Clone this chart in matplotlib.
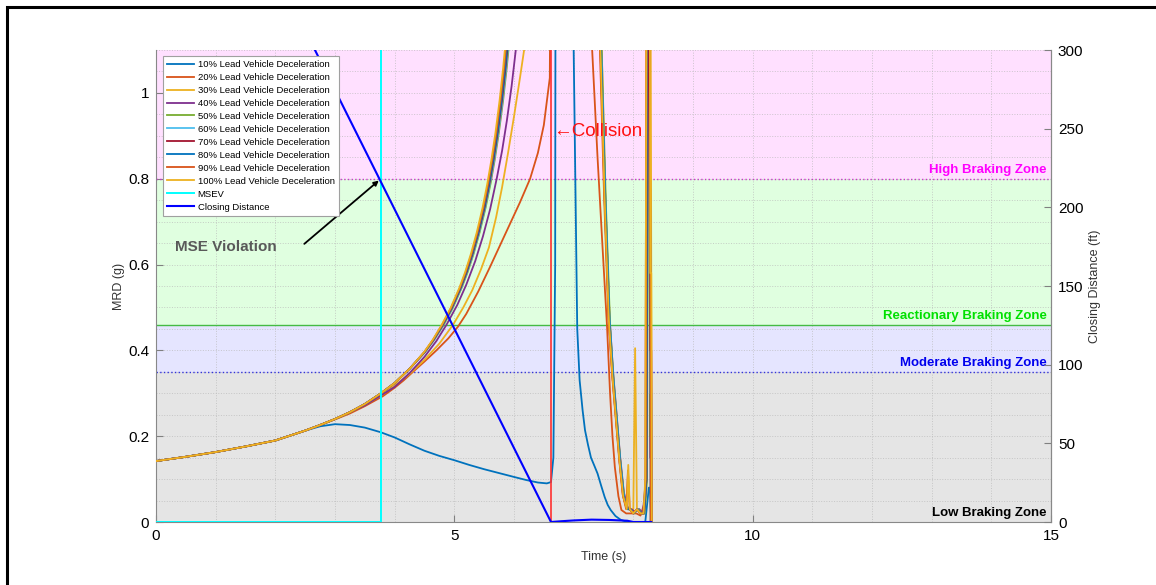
import numpy as np
import matplotlib
matplotlib.use("Agg")
import matplotlib.pyplot as plt
from matplotlib.patches import Rectangle
from matplotlib.ticker import MultipleLocator

plt.rcParams['font.family'] = ['Liberation Sans', 'DejaVu Sans']

# ---------------- data ----------------
# shared start of every MRD curve (g)
EARLY_T = [0.0, 0.5, 1.0, 1.5, 2.0, 2.5]
EARLY_G = [0.142, 0.152, 0.163, 0.176, 0.190, 0.213]

# 10 %
T10 = [2.75, 3.0, 3.25, 3.5, 3.77, 4.0, 4.25, 4.5, 4.75, 5.0, 5.25, 5.5, 5.75, 6.0, 6.2, 6.4, 6.55, 6.62,
       6.66, 6.69, 6.70, 6.98, 7.0, 7.06, 7.1, 7.15, 7.19, 7.24, 7.29, 7.35, 7.4, 7.46, 7.52, 7.57, 7.62, 7.7,
       7.79, 7.9, 8.2, 8.26, 8.28, 8.3]
G10 = [0.223, 0.228, 0.226, 0.220, 0.209, 0.197, 0.181, 0.166, 0.154, 0.144, 0.133, 0.123, 0.114, 0.105, 0.098,
       0.092, 0.090, 0.093, 0.15, 0.6, 1.8, 1.8, 1.1, 0.45, 0.33, 0.26, 0.214, 0.18, 0.15, 0.13, 0.113, 0.085,
       0.058, 0.04, 0.028, 0.014, 0.005, 0.0, 0.0, 0.08, 0.08, 0.0]

# 20 %
T20 = [2.75, 3.0, 3.25, 3.5, 3.8, 4.0, 4.15, 4.3, 4.5, 4.7, 4.9, 5.06, 5.2, 5.4, 5.6, 5.88, 6.1, 6.27, 6.4,
       6.5, 6.6, 6.63, 7.25, 7.31, 7.4, 7.48, 7.56, 7.61, 7.65, 7.69, 7.75, 7.8, 7.88, 7.95, 8.05, 8.12, 8.2,
       8.23, 8.26, 8.29, 8.31]
G20 = [0.226, 0.239, 0.253, 0.270, 0.293, 0.313, 0.330, 0.349, 0.374, 0.400, 0.428, 0.455, 0.485, 0.537,
       0.595, 0.679, 0.745, 0.800, 0.860, 0.925, 1.035, 1.8, 1.8, 1.1, 0.85, 0.65, 0.453, 0.3, 0.2, 0.128,
       0.06, 0.028, 0.02, 0.02, 0.02, 0.015, 0.05, 1.8, 1.8, 0.2, 0.0]

# 30 %
T30 = [2.75, 3.0, 3.25, 3.5, 3.8, 4.0, 4.25, 4.5, 4.75, 4.98, 5.15, 5.3, 5.45, 5.58, 5.7, 5.8, 5.9, 6.0,
       6.1, 6.18, 6.25, 7.4, 7.47, 7.54, 7.61, 7.67, 7.73, 7.79, 7.85, 7.9, 7.96, 8.0, 8.03, 8.06, 8.12,
       8.18, 8.22, 8.25, 8.28, 8.31]
G30 = [0.226, 0.240, 0.256, 0.273, 0.297, 0.318, 0.345, 0.378, 0.416, 0.460, 0.500, 0.540, 0.590, 0.640,
       0.710, 0.780, 0.860, 0.945, 1.035, 1.110, 1.8, 1.8, 1.1, 0.7, 0.45, 0.32, 0.22, 0.13, 0.05, 0.03,
       0.03, 0.03, 0.405, 0.03, 0.02, 0.02, 0.1, 1.8, 1.8, 0.0]

# 40 %
T40 = [2.75, 3.0, 3.25, 3.5, 3.77, 4.0, 4.25, 4.5, 4.7, 4.87, 5.05, 5.2, 5.35, 5.48, 5.6, 5.71, 5.8, 5.88,
       5.96, 6.03, 6.1, 7.4, 7.46, 7.53, 7.6, 7.66, 7.72, 7.78, 7.84, 7.9, 7.96, 8.02, 8.1, 8.16, 8.21,
       8.24, 8.27, 8.285, 8.3, 8.31]
G40 = [0.226, 0.240, 0.256, 0.272, 0.295, 0.315, 0.347, 0.385, 0.422, 0.460, 0.506, 0.553, 0.608, 0.666,
       0.729, 0.800, 0.865, 0.935, 1.016, 1.100, 1.198, 1.8, 1.1, 0.76, 0.48, 0.35, 0.25, 0.15, 0.07,
       0.035, 0.03, 0.025, 0.03, 0.02, 0.1, 1.8, 1.8, 0.15, 0.15, 0.0]

# 50 % .. 100 % share one rising shape, each slightly shifted in time
MAIN_G = [0.226, 0.240, 0.256, 0.275, 0.300, 0.324, 0.357, 0.396, 0.425, 0.459, 0.498, 0.545, 0.582,
          0.625, 0.675, 0.733, 0.788, 0.844, 0.908, 0.983, 1.058, 1.130, 1.213]
RISE_T50 = [2.75, 3.0, 3.25, 3.5, 3.77, 4.0, 4.25, 4.51, 4.665, 4.82, 4.97, 5.12, 5.222, 5.323, 5.424,
            5.525, 5.606, 5.677, 5.747, 5.818, 5.878, 5.928, 5.979]
RISE_T60 = [2.75, 3.0, 3.25, 3.5, 3.77, 4.0, 4.25, 4.505, 4.66, 4.813, 4.963, 5.113, 5.214, 5.315,
            5.416, 5.516, 5.596, 5.667, 5.737, 5.808, 5.868, 5.918, 5.968]
RISE_T70 = [2.75, 3.0, 3.25, 3.5, 3.77, 4.0, 4.25, 4.502, 4.655, 4.806, 4.956, 5.106, 5.207, 5.307,
            5.408, 5.508, 5.588, 5.658, 5.728, 5.799, 5.859, 5.909, 5.959]
RISE_T80 = [2.75, 3.0, 3.25, 3.5, 3.77, 4.0, 4.25, 4.5, 4.65, 4.8, 4.95, 5.1, 5.2, 5.3, 5.4, 5.5, 5.58,
            5.65, 5.72, 5.79, 5.85, 5.9, 5.95]
RISE_T90 = [2.75, 3.0, 3.25, 3.5, 3.77, 4.0, 4.25, 4.497, 4.645, 4.793, 4.942, 5.091, 5.19, 5.289, 5.388,
            5.487, 5.566, 5.635, 5.705, 5.774, 5.833, 5.882, 5.932]
RISE_T100 = [2.75, 3.0, 3.25, 3.5, 3.77, 4.0, 4.25, 4.493, 4.64, 4.787, 4.935, 5.082, 5.18, 5.278, 5.376,
             5.474, 5.552, 5.621, 5.69, 5.759, 5.818, 5.866, 5.915]

TAIL_T50 = [6.05, 7.3, 7.47, 7.54, 7.61, 7.67, 7.73, 7.79, 7.85, 7.91, 7.96, 8.01, 8.08, 8.14, 8.19, 8.23,
            8.26, 8.28, 8.3, 8.31]
TAIL_G50 = [1.8, 1.8, 1.1, 0.74, 0.46, 0.33, 0.23, 0.13, 0.055, 0.03, 0.028, 0.02, 0.03, 0.02, 0.02, 0.1,
            1.8, 0.2, 0.2, 0.0]
TAIL_T60 = [6.04, 7.3, 7.46, 7.53, 7.6, 7.66, 7.72, 7.78, 7.84, 7.9, 7.95, 8.0, 8.07, 8.13, 8.18, 8.22,
            8.25, 8.28, 8.3, 8.31]
TAIL_G60 = [1.8, 1.8, 1.1, 0.75, 0.47, 0.34, 0.24, 0.14, 0.06, 0.03, 0.03, 0.02, 0.03, 0.02, 0.02, 0.1,
            1.8, 0.3, 0.3, 0.0]
TAIL_T70 = [6.03, 7.3, 7.45, 7.52, 7.59, 7.65, 7.71, 7.77, 7.83, 7.89, 7.94, 8.0, 8.06, 8.12, 8.18, 8.22,
            8.25, 8.28, 8.3, 8.31]
TAIL_G70 = [1.8, 1.8, 1.1, 0.75, 0.47, 0.34, 0.24, 0.14, 0.06, 0.03, 0.03, 0.02, 0.03, 0.02, 0.02, 0.1,
            1.8, 0.4, 0.4, 0.0]
TAIL_T80 = [6.02, 7.3, 7.46, 7.53, 7.6, 7.66, 7.72, 7.78, 7.84, 7.9, 7.95, 8.0, 8.07, 8.13, 8.18, 8.22,
            8.24, 8.27, 8.29]
TAIL_G80 = [1.8, 1.8, 1.1, 0.75, 0.47, 0.34, 0.24, 0.14, 0.06, 0.03, 0.03, 0.02, 0.03, 0.02, 0.02, 0.1,
            1.8, 1.8, 0.0]
TAIL_T90 = [6.0, 7.3, 7.44, 7.51, 7.58, 7.64, 7.7, 7.76, 7.82, 7.88, 7.91, 7.94, 7.99, 8.06, 8.12, 8.17,
            8.21, 8.23, 8.27, 8.29]
TAIL_G90 = [1.8, 1.8, 1.1, 0.76, 0.48, 0.35, 0.25, 0.15, 0.065, 0.03, 0.12, 0.03, 0.02, 0.03, 0.02, 0.02,
            0.1, 1.8, 1.8, 0.0]
TAIL_T100 = [5.99, 7.3, 7.45, 7.52, 7.59, 7.65, 7.71, 7.77, 7.83, 7.89, 7.915, 7.94, 8.0, 8.06, 8.12, 8.17,
             8.2, 8.23, 8.27, 8.285, 8.30, 8.31]
TAIL_G100 = [1.8, 1.8, 1.1, 0.75, 0.47, 0.34, 0.24, 0.14, 0.06, 0.03, 0.133, 0.03, 0.02, 0.03, 0.02, 0.02,
             0.1, 1.8, 1.8, 0.58, 0.58, 0.0]

LABELS = ['10% Lead Vehicle Deceleration', '20% Lead Vehicle Deceleration',
          '30% Lead Vehicle Deceleration', '40% Lead Vehicle Deceleration',
          '50% Lead Vehicle Deceleration', '60% Lead Vehicle Deceleration',
          '70% Lead Vehicle Deceleration', '80% Lead Vehicle Deceleration',
          '90% Lead Vehicle Deceleration', '100% Lead Vehicle Deceleration']
COLORS = ['#0072BD', '#D95319', '#EDB120', '#7E2F8E', '#77AC30',
          '#4DBEEE', '#A2142F', '#0072BD', '#D95319', '#EDB120']

# MSEV time (s) and collision time (s)
MSEV_T = [0.0, 3.77, 3.77]
MSEV_G = [0.0, 0.0, 2.0]
COLLISION_T = 6.62

# closing distance (ft)
CD_T = [0.0, 6.62, 6.8, 7.0, 7.3, 7.6, 7.9, 8.0, 8.3]
CD_FT = [502.0, 0.0, 0.5, 1.0, 1.5, 1.3, 0.8, 0.0, 0.0]

# braking zones (g)
ZONE_EDGES = [0.0, 0.35, 0.46, 0.8, 1.1]
ZONE_FILL = ['#E5E5E5', '#E5E5FF', '#E0FFE0', '#FFE0FF']
ZONE_NAMES = ['Low Braking Zone', 'Moderate Braking Zone', 'Reactionary Braking Zone', 'High Braking Zone']
ZONE_TXT = ['black', '#0000EE', '#00E000', '#FF00FF']

# ---------------- plot ----------------
fig = plt.figure(figsize=(11.56, 5.85), dpi=100)
ax = fig.add_axes([156 / 1156, 1 - 522 / 585, 895 / 1156, 472 / 585])

for lo, hi, c in zip(ZONE_EDGES[:-1], ZONE_EDGES[1:], ZONE_FILL):
    ax.axhspan(lo, hi, color=c, zorder=0, lw=0)
ax.axhline(0.8, color='#CC33CC', lw=1.0, ls=':', zorder=2)
ax.axhline(0.46, color='#44BB44', lw=1.0, zorder=2)
ax.axhline(0.35, color='#3333DD', lw=1.0, ls=':', zorder=2)

series = [(T10, G10), (T20, G20), (T30, G30), (T40, G40),
          (RISE_T50 + TAIL_T50, MAIN_G + TAIL_G50),
          (RISE_T60 + TAIL_T60, MAIN_G + TAIL_G60),
          (RISE_T70 + TAIL_T70, MAIN_G + TAIL_G70),
          (RISE_T80 + TAIL_T80, MAIN_G + TAIL_G80),
          (RISE_T90 + TAIL_T90, MAIN_G + TAIL_G90),
          (RISE_T100 + TAIL_T100, MAIN_G + TAIL_G100)]
handles = []
for (t, g), lab, col in zip(series, LABELS, COLORS):
    h, = ax.plot(EARLY_T + t, EARLY_G + g, color=col, lw=1.3, label=lab, zorder=3)
    handles.append(h)

h, = ax.plot(MSEV_T, MSEV_G, color='cyan', lw=1.4, label='MSEV', zorder=4)
handles.append(h)
ax.axvline(COLLISION_T, color='#FF3030', lw=1.2, zorder=3)

ax.set_xlim(0, 15)
ax.set_ylim(0, 1.1)
ax.set_xticks([0, 5, 10, 15])
ax.set_yticks([0, 0.2, 0.4, 0.6, 0.8, 1.0])
ax.set_yticklabels(['0', '0.2', '0.4', '0.6', '0.8', '1'])
ax.xaxis.set_minor_locator(MultipleLocator(1))
ax.yaxis.set_minor_locator(MultipleLocator(0.05))
ax.grid(which='both', color='#B8B8B8', ls=':', lw=0.7, alpha=0.7)
ax.tick_params(which='major', direction='in', length=5, labelsize=11, color='#808080', pad=5)
ax.tick_params(which='minor', length=0)
ax.set_xlabel('Time (s)', fontsize=9, color='#333333', labelpad=6)
ax.set_ylabel('MRD (g)', fontsize=9, color='#333333', labelpad=2)
ax.spines['top'].set_visible(False)
for s in ['left', 'bottom', 'right']:
    ax.spines[s].set_color('#888888')

for lo, name, col in zip(ZONE_EDGES[:-1], ZONE_NAMES, ZONE_TXT):
    ax.text(14.93, lo + 0.006, name, color=col, fontsize=9.5, fontweight='bold',
            ha='right', va='bottom', zorder=6)

ax.annotate('', xy=(3.77, 0.8), xytext=(2.45, 0.644),
            arrowprops=dict(arrowstyle='-|>', color='black', lw=1.3, mutation_scale=7), zorder=6)
ax.text(0.32, 0.642, 'MSE Violation', color='#595959', fontsize=11, fontweight='bold',
        ha='left', va='center', zorder=6)
ax.text(6.65, 0.909, '\u2190Collision', color='#FF1010', fontsize=13.5,
        ha='left', va='center', zorder=6)

ax2 = ax.twinx()
ax2.set_ylim(0, 300)
ax2.set_yticks([0, 50, 100, 150, 200, 250, 300])
ax2.tick_params(direction='in', length=5, labelsize=11, color='#808080', pad=5)
ax2.set_ylabel('Closing Distance (ft)', fontsize=9, color='#333333', labelpad=4)
for s in ['top', 'left', 'bottom']:
    ax2.spines[s].set_visible(False)
ax2.spines['right'].set_color('#888888')
h, = ax2.plot(CD_T, CD_FT, color='#0000FF', lw=1.5, label='Closing Distance', zorder=3)
handles.append(h)

leg = ax2.legend(handles=handles, loc='upper left', bbox_to_anchor=(0.008, 0.988),
                 fontsize=6.8, frameon=True, fancybox=False, edgecolor='#A0A0A0',
                 framealpha=1.0, handlelength=2.8, labelspacing=0.42, borderpad=0.45,
                 handletextpad=0.4, borderaxespad=0.0)
leg.get_frame().set_linewidth(0.8)
leg.set_zorder(10)

fig.patches.append(Rectangle((7 / 1156, -0.2), 1.5, 1.2 - 7 / 585, transform=fig.transFigure,
                             fill=False, edgecolor='black', lw=2.2))

fig.savefig('out.png', dpi=100)
